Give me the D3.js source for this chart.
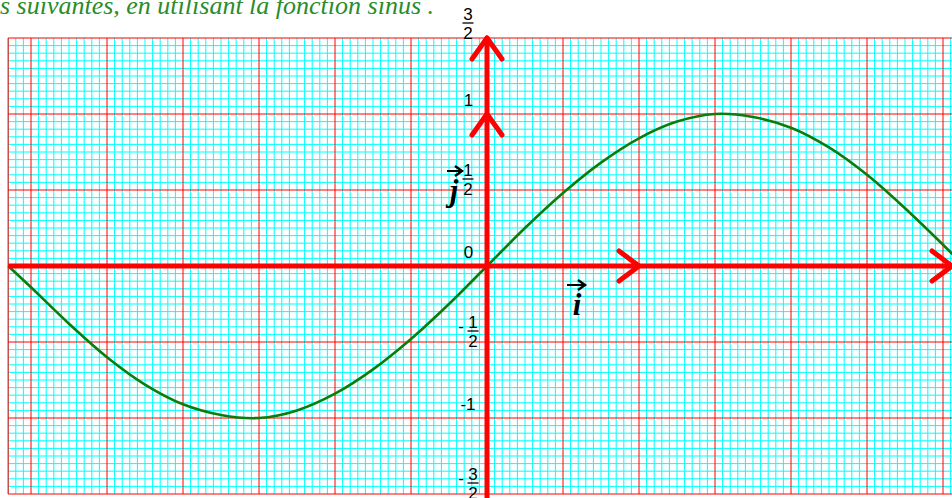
<!DOCTYPE html>
<html>
<head>
<meta charset="utf-8">
<script src="https://cdn.jsdelivr.net/npm/d3@7"></script>
<style>
  html, body { margin: 0; padding: 0; background: #ffffff; }
  svg { display: block; }
</style>
</head>
<body>
<svg id="chart" width="952" height="498"></svg>
<script>
// ---- data ----
const curveX = [-3.15, -3.0, -2.75, -2.5, -2.25, -2.0, -1.75, -1.5, -1.25, -1.0, -0.75, -0.5, -0.25, 0,
                0.25, 0.5, 0.75, 1.0, 1.25, 1.5, 1.75, 2.0, 2.25, 2.5, 2.75, 3.0, 3.1];
const curveY = [0.0, -0.14, -0.38, -0.60, -0.78, -0.91, -0.98, -1.00, -0.95, -0.84, -0.68, -0.48, -0.25, 0,
                0.25, 0.48, 0.68, 0.84, 0.95, 1.00, 0.98, 0.91, 0.78, 0.60, 0.38, 0.14, 0.04];
const yTickValues = [1.5, 1, 0.5, 0, -0.5, -1, -1.5];
const yTickLabels = ["3/2", "1", "1/2", "0", "-1/2", "-1", "-3/2"];
const gridXRange = [-3.15, 3.15];
const gridYRange = [-1.5, 1.5];
const minorStep = 0.05;
const majorEvery = 10;
const titleText = "es suivantes, en utilisant la fonction sinus .";

// ---- scales ----
const W = 952, H = 498;
const x = d3.scaleLinear().domain([0, 1]).range([487, 639]);
const y = d3.scaleLinear().domain([0, 1]).range([266, 114]);

const svg = d3.select("#chart");

// ---- grid ----
const gGrid = svg.append("g");
const kx0 = Math.round(gridXRange[0] / minorStep), kx1 = Math.round(gridXRange[1] / minorStep);
const ky0 = Math.round(gridYRange[0] / minorStep), ky1 = Math.round(gridYRange[1] / minorStep);
const vLines = d3.range(kx0, kx1 + 1);
const hLines = d3.range(ky0, ky1 + 1);

gGrid.selectAll("line.vminor").data(vLines.filter(k => k % majorEvery !== 0)).join("line")
  .attr("x1", k => x(k * minorStep)).attr("x2", k => x(k * minorStep))
  .attr("y1", y(gridYRange[1])).attr("y2", y(gridYRange[0]))
  .attr("stroke", "#00ffff").attr("stroke-width", 1);
gGrid.selectAll("line.hminor").data(hLines.filter(k => k % majorEvery !== 0)).join("line")
  .attr("y1", k => y(k * minorStep)).attr("y2", k => y(k * minorStep))
  .attr("x1", x(gridXRange[0])).attr("x2", x(gridXRange[1]))
  .attr("stroke", "#00ffff").attr("stroke-width", 1);

const vMajor = vLines.filter(k => k % majorEvery === 0 || k === kx0 || k === kx1);
const hMajor = hLines.filter(k => k % majorEvery === 0 || k === ky0 || k === ky1);
gGrid.selectAll("line.vmajor").data(vMajor).join("line")
  .attr("x1", k => x(k * minorStep)).attr("x2", k => x(k * minorStep))
  .attr("y1", y(gridYRange[1])).attr("y2", y(gridYRange[0]))
  .attr("stroke", "#ff0000").attr("stroke-width", 1);
gGrid.selectAll("line.hmajor").data(hMajor).join("line")
  .attr("y1", k => y(k * minorStep)).attr("y2", k => y(k * minorStep))
  .attr("x1", x(gridXRange[0])).attr("x2", x(gridXRange[1]))
  .attr("stroke", "#ff0000").attr("stroke-width", 1);

// ---- curve ----
const pts = curveX.map((v, i) => [v, curveY[i]]);
svg.append("path")
  .attr("d", d3.line().x(d => x(d[0])).y(d => y(d[1])).curve(d3.curveCatmullRom.alpha(0.5))(pts))
  .attr("fill", "none").attr("stroke", "#0a7d0a").attr("stroke-width", 2.6);

// ---- axes (thick red) ----
const axisColor = "#ff0000";
const gAx = svg.append("g").attr("stroke", axisColor).attr("stroke-width", 5)
  .attr("stroke-linecap", "round").attr("fill", "none");
const xEnd = x.invert(W);
gAx.append("line").attr("x1", x(gridXRange[0])).attr("x2", x(xEnd)).attr("y1", y(0)).attr("y2", y(0))
  .attr("stroke-linecap", "butt");
gAx.append("line").attr("x1", x(0)).attr("x2", x(0)).attr("y1", H).attr("y2", y(gridYRange[1]));

function arrowRight(px, py) {
  gAx.append("path").attr("d", `M${px - 20},${py - 15} L${px},${py} L${px - 20},${py + 15}`)
    .attr("stroke-linejoin", "round");
}
function arrowUp(px, py) {
  gAx.append("path").attr("d", `M${px - 15},${py + 21} L${px},${py} L${px + 15},${py + 21}`)
    .attr("stroke-linejoin", "round");
}
arrowRight(x(1), y(0));
arrowRight(x(xEnd), y(0));
arrowUp(x(0), y(1));
arrowUp(x(0), y(gridYRange[1]));

// ---- tick labels ----
const gLab = svg.append("g").attr("font-family", "'Liberation Sans', Arial, sans-serif")
  .attr("font-size", 17).attr("fill", "#000");
yTickValues.forEach((v, i) => {
  const lab = yTickLabels[i];
  const ty = y(v);
  const neg = lab.startsWith("-");
  const body = neg ? lab.slice(1) : lab;
  if (body.includes("/")) {
    const [num, den] = body.split("/");
    const cx = neg ? 473 : 468;
    const barY = ty - (v === 1.5 ? 15 : 11);
    gLab.append("text").attr("x", cx).attr("y", barY - 3).attr("text-anchor", "middle").text(num);
    gLab.append("line").attr("x1", cx - 5.5).attr("x2", cx + 5.5).attr("y1", barY).attr("y2", barY)
      .attr("stroke", "#000").attr("stroke-width", 1.3);
    gLab.append("text").attr("x", cx).attr("y", barY + 16).attr("text-anchor", "middle").text(den);
    if (neg) {
      gLab.append("text").attr("x", 461).attr("y", barY + 1).attr("text-anchor", "middle").text("-");
    }
  } else {
    gLab.append("text").attr("x", neg ? 468 : 468.5).attr("y", ty - 8.5).attr("text-anchor", "middle").text(lab);
  }
});

// ---- unit vectors i and j ----
function vecLabel(letter, cx, baseY, arrowY, ax0, ax1) {
  svg.append("text").attr("x", cx).attr("y", baseY).attr("text-anchor", "middle")
    .attr("font-family", "'Liberation Serif', 'Times New Roman', serif")
    .attr("font-style", "italic").attr("font-weight", "bold").attr("font-size", 31)
    .attr("fill", "#000").text(letter);
  svg.append("line").attr("x1", ax0).attr("x2", ax1 - 2).attr("y1", arrowY).attr("y2", arrowY)
    .attr("stroke", "#000").attr("stroke-width", 2);
  svg.append("path").attr("d", `M${ax1 - 7},${arrowY - 5} L${ax1},${arrowY} L${ax1 - 7},${arrowY + 5}`)
    .attr("fill", "none").attr("stroke", "#000").attr("stroke-width", 2.4);
}
vecLabel("j", 454, 201, 171, 447, 462);
vecLabel("i", 577, 315, 285, 567, 585);

// ---- top text (partially cut, as in the reference) ----
svg.append("text").attr("x", 434).attr("y", 14).attr("text-anchor", "end")
  .attr("font-family", "'Liberation Serif', 'Times New Roman', serif")
  .attr("font-style", "italic").attr("font-size", 26).attr("fill", "#2a8c2a")
  .text(titleText);
</script>
</body>
</html>
